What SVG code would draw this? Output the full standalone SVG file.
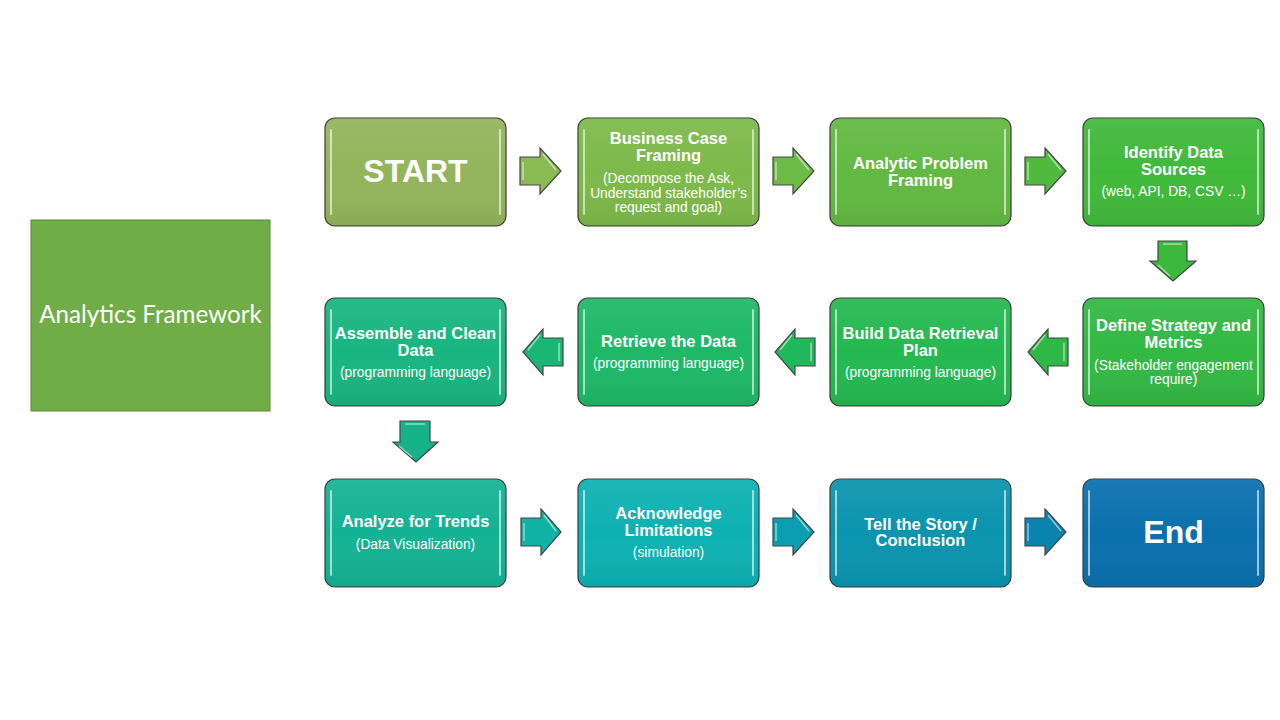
<svg xmlns="http://www.w3.org/2000/svg" width="1280" height="720" viewBox="0 0 1280 720">
<defs>
<linearGradient id="gloss" x1="0" y1="0" x2="0" y2="1">
<stop offset="0" stop-color="#ffffff" stop-opacity="0.07"/>
<stop offset="0.5" stop-color="#ffffff" stop-opacity="0"/>
<stop offset="1" stop-color="#000000" stop-opacity="0.06"/>
</linearGradient>
<style>
.box{stroke:#3a3a3a;stroke-width:1.2}
.gl{fill:url(#gloss);stroke:none}
.hl{stroke:#ffffff;stroke-opacity:0.6;stroke-width:2;stroke-linecap:round;fill:none}
.t{font-family:"Liberation Sans",Arial,sans-serif;font-weight:bold;font-size:16.5px;fill:#ffffff;text-anchor:middle}
.s{font-family:"Liberation Sans",Arial,sans-serif;font-size:13.8px;fill:#ffffff;text-anchor:middle}
.big{font-family:"Liberation Sans",Arial,sans-serif;font-weight:bold;font-size:32px;fill:#ffffff;text-anchor:middle}
.arr{stroke:#454545;stroke-width:1.2;stroke-linejoin:miter}
.ahl{stroke:#ffffff;stroke-opacity:0.55;stroke-width:1.5;fill:none}
</style>
</defs>
<rect width="1280" height="720" fill="#ffffff"/>

<g id="title">
<rect x="31" y="220" width="239" height="191" fill="#70ad47" stroke="#5b8a3a" stroke-width="1"/>
<text x="150.5" y="323" font-family="Lato,'Open Sans',sans-serif" font-size="24.2px" fill="#ffffff" text-anchor="middle">Analytics Framework</text>
</g>

<g id="connectors">
<g>
<polygon class="arr" fill="#8aba54" points="520,157 540,157 540,148 561,171 540,194 540,185 520,185"/>
<path class="ahl" d="M523,162 L523,180 M543,154 L556,170"/>
</g>
<g>
<polygon class="arr" fill="#6eba46" points="773,157 793,157 793,148 814,171 793,194 793,185 773,185"/>
<path class="ahl" d="M776,162 L776,180 M796,154 L809,170"/>
</g>
<g>
<polygon class="arr" fill="#4fba3e" points="1025,157 1045,157 1045,148 1066,171 1045,194 1045,185 1025,185"/>
<path class="ahl" d="M1028,162 L1028,180 M1048,154 L1061,170"/>
</g>
<g>
<polygon class="arr" fill="#3ab93c" points="1158,241 1187,241 1187,261 1196,261 1173,281 1150,261 1158,261"/>
<path class="ahl" d="M1163,244 L1182,244 M1158,265 L1170,276"/>
</g>
<g>
<polygon class="arr" fill="#2db848" points="1068,338 1048,338 1048,329 1028,352 1048,375 1048,366 1068,366"/>
<path class="ahl" d="M1064,343 L1064,361 M1045,335 L1033,350"/>
</g>
<g>
<polygon class="arr" fill="#20b85c" points="815,338 795,338 795,329 775,352 795,375 795,366 815,366"/>
<path class="ahl" d="M811,343 L811,361 M792,335 L780,350"/>
</g>
<g>
<polygon class="arr" fill="#1ab676" points="563,338 543,338 543,329 523,352 543,375 543,366 563,366"/>
<path class="ahl" d="M559,343 L559,361 M540,335 L528,350"/>
</g>
<g>
<polygon class="arr" fill="#16b38a" points="400,421 430,421 430,442 438,442 416,462 393,442 400,442"/>
<path class="ahl" d="M405,424 L425,424 M399,446 L412,457"/>
</g>
<g>
<polygon class="arr" fill="#10b2a6" points="521,518 541,518 541,509 561,532 541,555 541,546 521,546"/>
<path class="ahl" d="M524,523 L524,541 M544,515 L556,531"/>
</g>
<g>
<polygon class="arr" fill="#0a9fb0" points="773,518 793,518 793,509 814,532 793,555 793,546 773,546"/>
<path class="ahl" d="M776,523 L776,541 M796,515 L809,531"/>
</g>
<g>
<polygon class="arr" fill="#0a83ae" points="1025,518 1045,518 1045,509 1066,532 1045,555 1045,546 1025,546"/>
<path class="ahl" d="M1028,523 L1028,541 M1048,515 L1061,531"/>
</g>
</g>

<g id="start">
<rect class="box" x="325" y="118" width="181" height="108" rx="10" fill="#93b45b"/>
<rect class="gl" x="325" y="118" width="181" height="108" rx="10"/>
<path class="hl" d="M331,130 L331,214 M500,130 L500,214"/>
<text class="big" x="415.5" y="182">START</text>
</g>

<g id="business-case">
<rect class="box" x="578" y="118" width="181" height="108" rx="10" fill="#7db94a"/>
<rect class="gl" x="578" y="118" width="181" height="108" rx="10"/>
<path class="hl" d="M584,130 L584,214 M753,130 L753,214"/>
<text class="t" x="668.5" y="144">Business Case</text>
<text class="t" x="668.5" y="161">Framing</text>
<text class="s" x="668.5" y="183">(Decompose the Ask,</text>
<text class="s" x="668.5" y="198">Understand stakeholder’s</text>
<text class="s" x="668.5" y="212">request and goal)</text>
</g>

<g id="analytic-problem">
<rect class="box" x="830" y="118" width="181" height="108" rx="10" fill="#62b942"/>
<rect class="gl" x="830" y="118" width="181" height="108" rx="10"/>
<path class="hl" d="M836,130 L836,214 M1005,130 L1005,214"/>
<text class="t" x="920.5" y="169">Analytic Problem</text>
<text class="t" x="920.5" y="186">Framing</text>
</g>

<g id="identify-sources">
<rect class="box" x="1083" y="118" width="181" height="108" rx="10" fill="#40b93a"/>
<rect class="gl" x="1083" y="118" width="181" height="108" rx="10"/>
<path class="hl" d="M1089,130 L1089,214 M1258,130 L1258,214"/>
<text class="t" x="1173.5" y="158">Identify Data</text>
<text class="t" x="1173.5" y="175">Sources</text>
<text class="s" x="1173.5" y="196">(web, API, DB, CSV …)</text>
</g>

<g id="define-strategy">
<rect class="box" x="1083" y="298" width="181" height="108" rx="10" fill="#32b843"/>
<rect class="gl" x="1083" y="298" width="181" height="108" rx="10"/>
<path class="hl" d="M1089,310 L1089,394 M1258,310 L1258,394"/>
<text class="t" x="1173.5" y="331">Define Strategy and</text>
<text class="t" x="1173.5" y="348">Metrics</text>
<text class="s" x="1173.5" y="370">(Stakeholder engagement</text>
<text class="s" x="1173.5" y="384">require)</text>
</g>

<g id="build-plan">
<rect class="box" x="830" y="298" width="181" height="108" rx="10" fill="#24b850"/>
<rect class="gl" x="830" y="298" width="181" height="108" rx="10"/>
<path class="hl" d="M836,310 L836,394 M1005,310 L1005,394"/>
<text class="t" x="920.5" y="339">Build Data Retrieval</text>
<text class="t" x="920.5" y="356">Plan</text>
<text class="s" x="920.5" y="377">(programming language)</text>
</g>

<g id="retrieve-data">
<rect class="box" x="578" y="298" width="181" height="108" rx="10" fill="#1eb867"/>
<rect class="gl" x="578" y="298" width="181" height="108" rx="10"/>
<path class="hl" d="M584,310 L584,394 M753,310 L753,394"/>
<text class="t" x="668.5" y="347">Retrieve the Data</text>
<text class="s" x="668.5" y="368">(programming language)</text>
</g>

<g id="assemble-clean">
<rect class="box" x="325" y="298" width="181" height="108" rx="10" fill="#18b580"/>
<rect class="gl" x="325" y="298" width="181" height="108" rx="10"/>
<path class="hl" d="M331,310 L331,394 M500,310 L500,394"/>
<text class="t" x="415.5" y="339">Assemble and Clean</text>
<text class="t" x="415.5" y="356">Data</text>
<text class="s" x="415.5" y="377">(programming language)</text>
</g>

<g id="analyze-trends">
<rect class="box" x="325" y="479" width="181" height="108" rx="10" fill="#14b294"/>
<rect class="gl" x="325" y="479" width="181" height="108" rx="10"/>
<path class="hl" d="M331,491 L331,575 M500,491 L500,575"/>
<text class="t" x="415.5" y="527">Analyze for Trends</text>
<text class="s" x="415.5" y="549">(Data Visualization)</text>
</g>

<g id="acknowledge-limitations">
<rect class="box" x="578" y="479" width="181" height="108" rx="10" fill="#0db1b2"/>
<rect class="gl" x="578" y="479" width="181" height="108" rx="10"/>
<path class="hl" d="M584,491 L584,575 M753,491 L753,575"/>
<text class="t" x="668.5" y="519">Acknowledge</text>
<text class="t" x="668.5" y="536">Limitations</text>
<text class="s" x="668.5" y="557">(simulation)</text>
</g>

<g id="tell-story">
<rect class="box" x="830" y="479" width="181" height="108" rx="10" fill="#0a94ae"/>
<rect class="gl" x="830" y="479" width="181" height="108" rx="10"/>
<path class="hl" d="M836,491 L836,575 M1005,491 L1005,575"/>
<text class="t" x="920.5" y="530">Tell the Story /</text>
<text class="t" x="920.5" y="546">Conclusion</text>
</g>

<g id="end">
<rect class="box" x="1083" y="479" width="181" height="108" rx="10" fill="#0a70ad"/>
<rect class="gl" x="1083" y="479" width="181" height="108" rx="10"/>
<path class="hl" d="M1089,491 L1089,575 M1258,491 L1258,575"/>
<text class="big" x="1173.5" y="543">End</text>
</g>
</svg>
